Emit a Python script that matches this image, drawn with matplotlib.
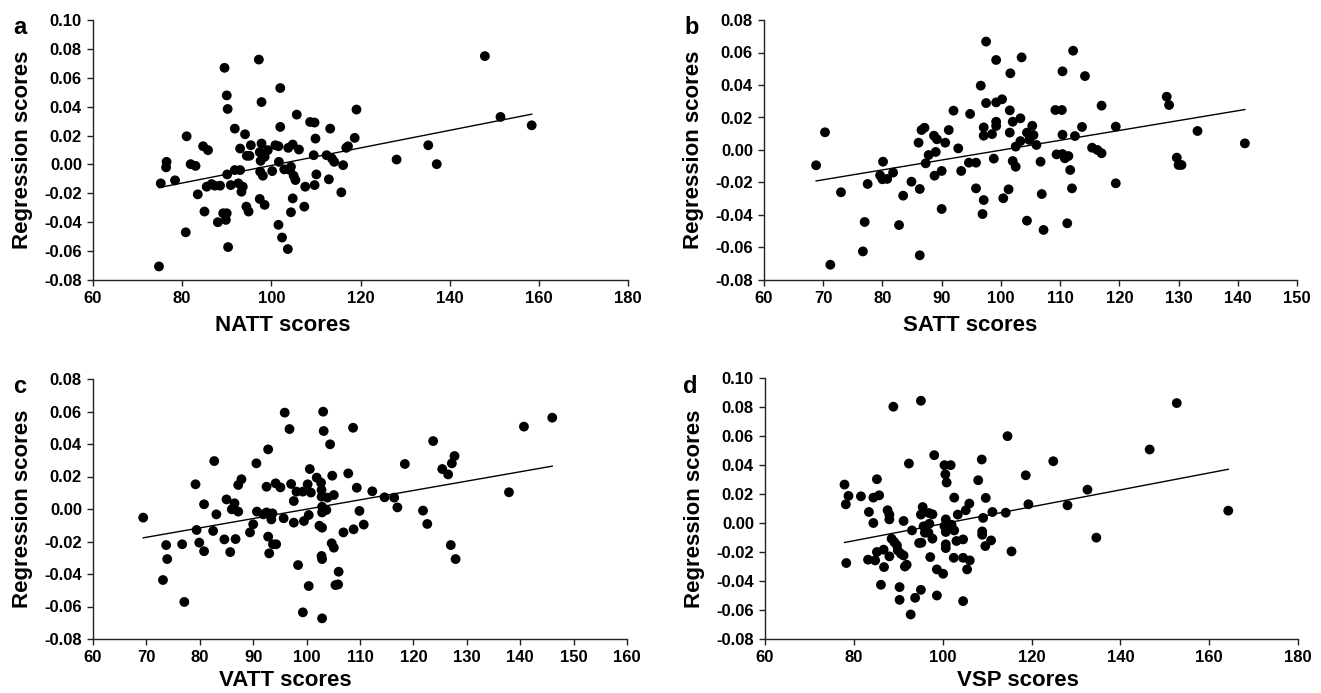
import numpy as np
import matplotlib
matplotlib.use('Agg')
from matplotlib import pyplot as plt

# values
natt_x = [74.8, 75.2, 76.5, 76.4, 78.4, 81.0, 80.8, 81.9, 83.0, 83.5, 84.7, 85.8, 85.0, 85.5, 86.6,
          87.3, 88.5, 88.0, 89.5, 90.0, 90.2, 89.2, 90.0, 89.8, 90.3, 90.1, 90.9, 91.8, 92.6, 93.0,
          94.1, 93.6, 93.3, 94.5, 95.4, 95.1, 91.8, 93.0, 94.4, 94.9, 97.2, 97.8, 97.8, 97.4, 97.6,
          98.5, 97.4, 98.5, 97.5, 98.1, 99.2, 100.9, 101.6, 102.0, 102.0, 101.7, 100.2, 101.6, 102.4,
          103.7, 102.9, 103.8, 104.8, 104.4, 104.2, 105.0, 105.4, 104.8, 104.4, 105.7, 106.2, 107.6,
          107.4, 108.7, 109.7, 109.9, 109.5, 110.1, 109.7, 112.4, 113.2, 113.6, 114.1, 112.9, 115.7,
          116.1, 116.8, 117.2, 118.7, 119.1, 128.1, 135.2, 137.1, 147.9, 151.4, 158.4]
natt_y = [-0.0706, -0.0131, 0.0018, -0.0020, -0.0110, 0.0195, -0.0470, 0.0002, -0.0010, -0.0207,
          0.0126, 0.0099, -0.0326, -0.0154, -0.0136, -0.0147, -0.0147, -0.0400, 0.0669, 0.0478,
          0.0384, -0.0338, -0.0338, -0.0384, -0.0572, -0.0069, -0.0143, 0.0248, -0.0131, 0.0110,
          0.0209, -0.0154, -0.0189, 0.0060, 0.0133, 0.0060, -0.0039, -0.0039, -0.0292, -0.0326,
          0.0726, 0.0432, 0.0145, 0.0085, 0.0025, 0.0053, -0.0239, -0.0280, -0.0050, -0.0078,
          0.0099, 0.0133, 0.0126, 0.0529, 0.0260, 0.0018, -0.0046, -0.0418, -0.0506, -0.0586,
          -0.0034, 0.0115, 0.0138, -0.0016, -0.0039, -0.0078, -0.0108, -0.0235, -0.0331, 0.0345,
          0.0103, -0.0154, -0.0292, 0.0294, 0.0290, 0.0179, 0.0064, -0.0069, -0.0143, 0.0064,
          0.0248, 0.0041, 0.0018, -0.0103, -0.0193, -0.0005, 0.0115, 0.0126, 0.0184, 0.0380,
          0.0034, 0.0133, 0.0002, 0.0750, 0.0329, 0.0271]

satt_x = [68.8, 70.3, 71.2, 73.0, 77.0, 76.7, 77.5, 80.1, 79.6, 80.0, 80.8, 81.8, 82.8, 83.5, 84.9,
          86.3, 86.3, 86.1, 86.6, 87.1, 87.3, 87.8, 88.7, 89.2, 89.0, 88.8, 90.0, 90.0, 90.6, 91.2,
          92.0, 92.8, 93.3, 94.6, 94.8, 95.8, 95.8, 96.6, 97.1, 97.1, 96.9, 97.1, 97.5, 97.5, 98.5,
          98.8, 99.2, 99.2, 99.2, 99.2, 100.2, 100.4, 101.3, 101.6, 101.5, 101.5, 102.0, 102.0, 102.5,
          102.5, 103.3, 103.3, 103.5, 104.4, 104.4, 105.3, 105.5, 104.8, 106.0, 106.7, 106.9, 107.2,
          109.2, 110.3, 110.4, 112.2, 114.2, 110.4, 112.5, 113.7, 109.4, 110.4, 110.8, 111.4, 111.7,
          112.0, 111.2, 117.0, 115.4, 116.3, 117.0, 119.4, 119.4, 128.0, 128.4, 129.7, 130.0, 130.5,
          133.2, 141.2]
satt_y = [-0.0094, 0.0109, -0.0706, -0.0260, -0.0443, -0.0624, -0.0209, -0.0072, -0.0156, -0.0180,
          -0.0178, -0.0139, -0.0462, -0.0281, -0.0195, -0.0240, -0.0648, 0.0045, 0.0123, 0.0137,
          -0.0082, -0.0031, 0.0088, 0.0066, -0.0012, -0.0158, -0.0129, -0.0363, 0.0045, 0.0123,
          0.0242, 0.0010, -0.0129, -0.0078, 0.0222, -0.0078, -0.0236, 0.0396, 0.0139, 0.0088,
          -0.0394, -0.0308, 0.0667, 0.0289, 0.0098, -0.0053, 0.0174, 0.0148, 0.0554, 0.0293,
          0.0312, -0.0297, -0.0242, 0.0472, 0.0244, 0.0107, 0.0174, -0.0068, -0.0103, 0.0021,
          0.0055, 0.0195, 0.0570, 0.0107, -0.0435, 0.0149, 0.0092, 0.0062, 0.0031, -0.0072,
          -0.0271, -0.0492, 0.0246, 0.0246, 0.0484, 0.0611, 0.0455, 0.0094, 0.0086, 0.0142,
          -0.0027, -0.0025, -0.0051, -0.0037, -0.0123, -0.0236, -0.0451, 0.0273, 0.0014, 0.0000,
          -0.0020, 0.0144, -0.0205, 0.0328, 0.0277, -0.0047, -0.0092, -0.0092, 0.0117, 0.0041]

vatt_x = [69.4, 73.7, 73.9, 73.1, 76.7, 77.1, 79.2, 79.4, 79.9, 80.8, 80.8, 82.7, 82.5, 83.1, 84.6,
          85.0, 85.7, 86.5, 86.0, 87.2, 86.7, 87.2, 87.8, 89.4, 90.0, 90.6, 90.7, 91.9, 92.5, 92.8,
          92.8, 93.0, 92.5, 93.4, 93.6, 93.7, 94.3, 94.2, 95.1, 95.7, 95.9, 96.8, 97.1, 97.6, 97.6,
          98.1, 98.4, 99.3, 99.5, 99.3, 100.4, 100.4, 100.2, 100.6, 100.8, 101.9, 102.4, 102.9, 102.7,
          102.8, 102.8, 103.1, 103.2, 102.9, 102.9, 103.7, 103.9, 102.8, 102.9, 102.9, 104.4, 104.8,
          105.1, 104.7, 105.1, 106.0, 105.4, 105.9, 106.9, 107.8, 108.7, 108.8, 109.4, 109.9, 110.7,
          112.3, 114.6, 116.4, 117.0, 118.4, 121.8, 122.6, 123.7, 125.4, 126.5, 127.2, 127.7, 127.0,
          127.9, 137.9, 140.7, 146.0]
vatt_y = [-0.0053, -0.0222, -0.0308, -0.0437, -0.0217, -0.0572, 0.0152, -0.0129, -0.0207, 0.0029,
          -0.0260, 0.0295, -0.0135, -0.0033, -0.0187, 0.0059, -0.0265, 0.0035, -0.0002, -0.0016,
          -0.0185, 0.0148, 0.0183, -0.0144, -0.0094, 0.0281, -0.0016, -0.0033, 0.0137, 0.0367,
          -0.0170, -0.0273, -0.0021, -0.0064, -0.0027, -0.0217, -0.0217, 0.0158, 0.0133, -0.0057,
          0.0593, 0.0492, 0.0154, 0.0049, -0.0084, 0.0107, -0.0345, 0.0107, -0.0074, -0.0636,
          -0.0474, -0.0037, 0.0152, 0.0246, 0.0101, 0.0193, -0.0103, -0.0115, 0.0162, 0.0117,
          0.0076, 0.0599, 0.0480, 0.0014, -0.0021, -0.0006, 0.0070, -0.0289, -0.0308, -0.0673,
          0.0398, 0.0205, 0.0086, -0.0211, -0.0238, -0.0386, -0.0468, -0.0464, -0.0144, 0.0219,
          0.0500, -0.0125, 0.0131, -0.0012, -0.0096, 0.0109, 0.0072, 0.0070, 0.0010, 0.0277,
          -0.0010, -0.0092, 0.0418, 0.0246, 0.0213, 0.0281, 0.0326, -0.0222, -0.0308, 0.0103,
          0.0507, 0.0562]

vsp_x = [77.9, 78.2, 78.8, 78.3, 81.6, 83.4, 84.4, 85.2, 85.7, 84.4, 83.2, 84.8, 85.2, 86.7, 86.8,
         86.1, 87.6, 88.0, 88.0, 88.0, 88.5, 88.9, 89.1, 89.7, 89.9, 90.3, 90.3, 90.6, 91.2, 91.2,
         91.5, 91.9, 92.4, 92.8, 93.1, 93.8, 94.7, 95.1, 95.1, 95.1, 95.5, 95.2, 95.7, 96.0, 96.9,
         97.7, 97.0, 96.8, 97.2, 97.7, 98.1, 98.7, 98.7, 100.1, 100.4, 100.6, 100.9, 101.8, 100.7,
         100.4, 100.7, 100.7, 100.7, 102.0, 102.6, 102.6, 102.5, 103.4, 103.1, 104.6, 104.6, 104.6,
         105.2, 105.5, 106.1, 106.0, 108.0, 108.8, 109.1, 108.9, 108.9, 109.6, 109.7, 110.9, 111.2,
         114.2, 114.6, 115.5, 118.7, 119.3, 124.9, 128.1, 132.6, 134.6, 146.6, 152.7, 164.3]
vsp_y = [0.0265, 0.0129, 0.0187, -0.0276, 0.0184, 0.0076, 0.0175, 0.0302, 0.0191, 0.0000,
         -0.0253, -0.0258, -0.0200, -0.0184, -0.0304, -0.0426, 0.0088, 0.0058, 0.0025, -0.0230,
         -0.0108, 0.0802, -0.0131, -0.0154, -0.0189, -0.0442, -0.0530, -0.0212, -0.0224, 0.0014,
         -0.0300, -0.0288, 0.0410, -0.0631, -0.0051, -0.0516, -0.0138, -0.0461, 0.0843, 0.0058,
         0.0110, -0.0136, -0.0023, -0.0067, 0.0069, 0.0060, -0.0005, -0.0067, -0.0235, -0.0108,
         0.0468, -0.0500, -0.0320, -0.0350, 0.0399, 0.0336, 0.0279, 0.0399, 0.0025, -0.0021,
         -0.0062, -0.0147, -0.0173, -0.0012, -0.0051, 0.0175, -0.0240, 0.0058, -0.0124, -0.0113,
         -0.0240, -0.0539, 0.0088, -0.0320, -0.0258, 0.0134, 0.0295, 0.0438, 0.0035, -0.0058,
         -0.0081, -0.0159, 0.0173, -0.0120, 0.0076, 0.0071, 0.0599, -0.0196, 0.0329, 0.0129,
         0.0426, 0.0122, 0.0230, -0.0101, 0.0507, 0.0827, 0.0085]

letters = ['a', 'b', 'c', 'd']
xlabels = ['NATT scores', 'SATT scores', 'VATT scores', 'VSP scores']
xlims = [(60, 180), (60, 150), (60, 160), (60, 180)]
xsteps = [20, 10, 10, 20]
ylims = [(-0.08, 0.10), (-0.08, 0.08), (-0.08, 0.08), (-0.08, 0.10)]

plt.rcParams['font.family'] = ['Liberation Sans', 'DejaVu Sans']
plt.rcParams['font.weight'] = 'bold'

W, H = 1321, 693
fig = plt.figure(figsize=(W / 100, H / 100), dpi=100)

# axes boxes in pixels: left, top, right, bottom
boxes = [(93, 20, 628, 280), (764, 20, 1297, 280), (93, 379, 627, 639), (765, 378, 1298, 639)]
xlab_pos = [(0.355, -0.135), (0.386, -0.135), (0.361, -0.12), (0.475, -0.12)]
letter_pos = [(20, 27), (692, 28), (20, 386), (690, 386)]

data = [(natt_x, natt_y), (satt_x, satt_y), (vatt_x, vatt_y), (vsp_x, vsp_y)]

for i, (xs, ys) in enumerate(data):
    l, t, r, b = boxes[i]
    ax = fig.add_axes([l / W, 1 - b / H, (r - l) / W, (b - t) / H])
    ax.scatter(xs, ys, s=50, color='black', edgecolors='none', zorder=3)

    # linear trend line
    k, c = np.polyfit(xs, ys, 1)
    lx = np.array([min(xs), max(xs)])
    ax.plot(lx, k * lx + c, color='black', lw=1.0, zorder=2)

    ax.set_xlim(*xlims[i])
    ax.set_ylim(*ylims[i])
    ax.set_xticks(np.arange(xlims[i][0], xlims[i][1] + 1, xsteps[i]))
    ax.set_yticks(np.arange(ylims[i][0], ylims[i][1] + 0.001, 0.02))
    ax.yaxis.set_major_formatter(matplotlib.ticker.FormatStrFormatter('%.2f'))
    for sp in ['top', 'right']:
        ax.spines[sp].set_visible(False)
    for sp in ['left', 'bottom']:
        ax.spines[sp].set_linewidth(1.0)
        ax.spines[sp].set_color('#222222')
    ax.tick_params(direction='out', length=4, width=1.0, color='#222222',
                   labelsize=12, pad=4)
    for lab in ax.get_xticklabels() + ax.get_yticklabels():
        lab.set_fontweight('bold')

    ax.set_xlabel(xlabels[i], fontsize=16, fontweight='bold')
    ax.xaxis.set_label_coords(*xlab_pos[i])
    ax.set_ylabel('Regression scores', fontsize=16, fontweight='bold')
    ax.yaxis.set_label_coords(-0.113, 0.5)

    lx_, ly_ = letter_pos[i]
    fig.text(lx_ / W, 1 - ly_ / H, letters[i], fontsize=17, fontweight='bold',
             ha='center', va='center')

fig.savefig('out.png', dpi=100)
